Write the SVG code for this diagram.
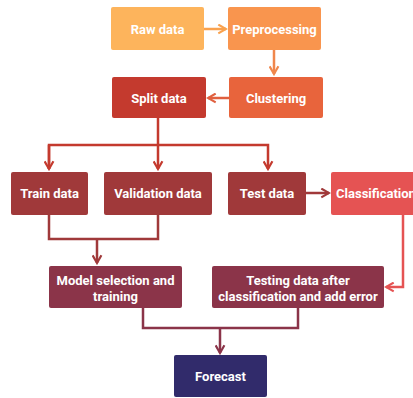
<svg xmlns="http://www.w3.org/2000/svg" width="413" height="398" viewBox="0 0 413 398">
<style>
text{font-family:Roboto,"Liberation Sans",sans-serif;font-weight:bold;font-size:13px;fill:#fff;text-anchor:middle;dominant-baseline:central}
.c{fill:none;stroke-width:2.5}
</style>
<defs>
<marker id="m" viewBox="0 0 10 10" refX="8" refY="5" markerWidth="4.4" markerHeight="4.4" orient="auto" markerUnits="strokeWidth">
<path d="M1,1 L8,5 L1,9" fill="none" stroke="context-stroke" stroke-width="2"/>
</marker>
</defs>
<rect width="413" height="398" fill="#fff"/>
<g id="connectors">
<path class="c" d="M204,29 H226" stroke="#F9A24F" marker-end="url(#m)"/>
<path class="c" d="M274,50 V74" stroke="#F0874C" marker-end="url(#m)"/>
<path class="c" d="M229,98 H208" stroke="#E0603F" marker-end="url(#m)"/>
<path class="c" d="M158,118 V169" stroke="#C43A2E" marker-end="url(#m)"/>
<path class="c" d="M49,169 V145 H268 V169" stroke="#C43A2E" marker-end="url(#m)"/>
<path class="c" d="M49,145 V169" stroke="#C43A2E" marker-end="url(#m)"/>
<path class="c" d="M306,193 H329" stroke="#A0393A" marker-end="url(#m)"/>
<path class="c" d="M49,215 V239 H158 V215" stroke="#A0393A"/>
<path class="c" d="M97,239 V263" stroke="#A0393A" marker-end="url(#m)"/>
<path class="c" d="M403,215 V287 H386" stroke="#E55353" marker-end="url(#m)"/>
<path class="c" d="M143,308 V328 H298 V308" stroke="#8B3449"/>
<path class="c" d="M220,328 V353" stroke="#8B3449" marker-end="url(#m)"/>
</g>
<g id="raw"><rect x="111" y="7" width="93" height="43" rx="2" fill="#FDB45C"/><text x="157.5" y="29">Raw data</text></g>
<g id="pre"><rect x="228" y="7" width="93" height="43" rx="2" fill="#F9954E"/><text x="274.5" y="29">Preprocessing</text></g>
<g id="clu"><rect x="229" y="77" width="94" height="41" rx="2" fill="#E8643C"/><text x="276" y="98">Clustering</text></g>
<g id="split"><rect x="112" y="77" width="94" height="41" rx="2" fill="#C43A2E"/><text x="159" y="98">Split data</text></g>
<g id="train"><rect x="11" y="172" width="77" height="43" rx="2" fill="#A0393A"/><text x="49.5" y="193.5">Train data</text></g>
<g id="val"><rect x="104" y="172" width="108" height="43" rx="2" fill="#A0393A"/><text x="158" y="193.5">Validation data</text></g>
<g id="test"><rect x="228" y="172" width="78" height="43" rx="2" fill="#A0393A"/><text x="267" y="193.5">Test data</text></g>
<g id="cls"><rect x="331" y="172" width="90" height="43" rx="2" fill="#E55353"/><text x="376" y="193.5">Classification</text></g>
<g id="model"><rect x="49" y="266" width="133" height="42" rx="2" fill="#8B3449"/><text x="115.5" y="280">Model selection and</text><text x="115.5" y="296">training</text></g>
<g id="testing"><rect x="212" y="266" width="172" height="42" rx="2" fill="#8B3449"/><text x="298" y="280">Testing data after</text><text x="298" y="296">classification and add error</text></g>
<g id="forecast"><rect x="174" y="355" width="93" height="42" rx="2" fill="#312B6B"/><text x="220.5" y="376">Forecast</text></g>
</svg>
